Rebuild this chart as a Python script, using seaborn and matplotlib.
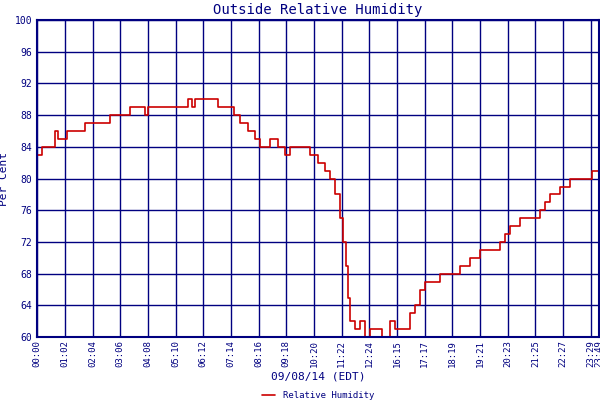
import matplotlib
matplotlib.use("Agg")
import matplotlib.pyplot as plt
import seaborn as sns
import pandas as pd

minutes = [0,11,34,40,47,63,67,78,107,163,208,242,248,331,338,347,354,398,405,432,441,454,472,488,499,521,539,555,566,600,611,629,645,656,667,678,685,692,696,701,712,723,734,745,763,772,781,790,801,812,824,835,846,857,868,880,902,924,947,969,991,1014,1036,1047,1058,1081,1103,1126,1137,1148,1159,1170,1182,1193,1238,1242,1258]
humidity = [83,84,84,86,85,85,86,86,87,88,89,88,89,89,90,89,90,90,89,89,88,87,86,85,84,85,84,83,84,84,83,82,81,80,78,75,72,69,65,62,61,62,60,61,61,60,60,62,61,61,61,63,64,66,67,67,68,68,69,70,71,71,72,73,74,75,75,76,77,78,78,79,79,80,80,81,81]
tick_labels = ["00:00","01:02","02:04","03:06","04:08","05:10","06:12","07:14","08:16","09:18","10:20","11:22","12:24","16:15","17:17","18:19","19:21","20:23","21:25","22:27","23:29","23:49"]
tick_pos = [i*62 for i in range(21)] + [1258]

navy = "#000080"
sns.set_style("white")
plt.rcParams['font.family'] = ['DejaVu Sans Mono']
df = pd.DataFrame({"t": minutes, "rh": humidity})
fig = plt.figure(figsize=(6, 4), dpi=100)
ax = fig.add_axes([0.062, 0.157, 0.936, 0.793])
sns.lineplot(data=df, x="t", y="rh", ax=ax, color="#cc0000", lw=1.2, drawstyle="steps-post", label="Relative Humidity")
ax.set_xlim(0, 1258)
ax.set_ylim(60, 100)
ax.set_yticks(range(60, 101, 4))
ax.set_xticks(tick_pos)
ax.set_xticklabels(tick_labels, rotation=90, fontsize=6.5, color=navy)
ax.tick_params(axis='y', labelsize=7, colors=navy, length=0)
ax.tick_params(axis='x', length=0, pad=2)
ax.grid(True, color=navy, lw=1)
for s in ax.spines.values():
    s.set_color(navy); s.set_linewidth(1.5)
ax.set_title("Outside Relative Humidity", color=navy, fontsize=10, pad=4)
ax.set_ylabel("Per Cent", color=navy, fontsize=8)
ax.set_xlabel("09/08/14 (EDT)", color=navy, fontsize=8, labelpad=3)
ax.legend(loc="center", bbox_to_anchor=(0.5, -0.183), frameon=False, fontsize=6.5, labelcolor=navy, handlelength=1.5, borderpad=0, borderaxespad=0)
fig.savefig("out.png")
